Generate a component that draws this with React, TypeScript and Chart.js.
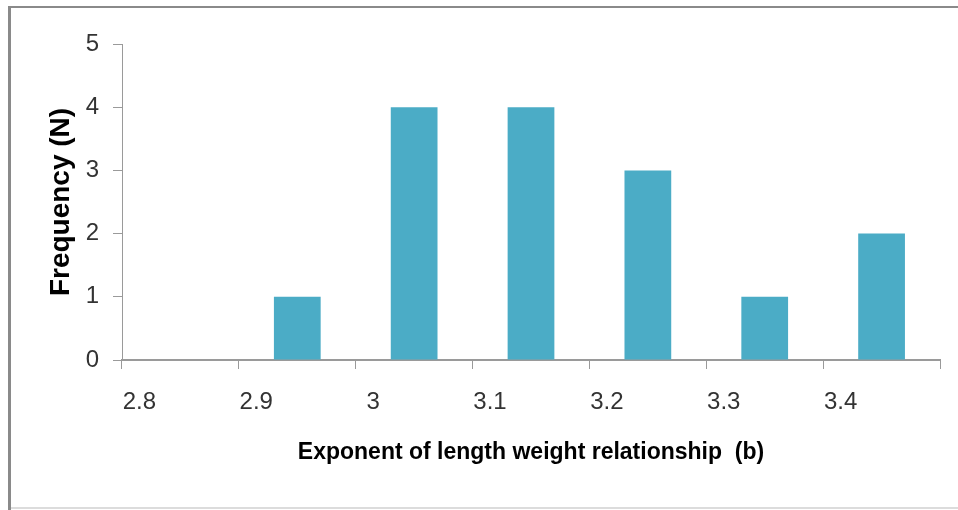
import React, { useEffect, useRef } from "react";
import { Chart, registerables } from "chart.js";

Chart.register(...registerables);

const categories = ["2.8", "2.9", "3", "3.1", "3.2", "3.3", "3.4"];
const frequencies = [0, 1, 4, 4, 3, 1, 2];
const yMin = 0;
const yMax = 5;
const xTitle = "Exponent of length weight relationship  (b)";
const yTitle = "Frequency (N)";

export default function App() {
  const ref = useRef<HTMLCanvasElement | null>(null);

  useEffect(() => {
    if (!ref.current) return;
    const chart = new Chart(ref.current, {
      type: "bar",
      data: {
        labels: categories,
        datasets: [
          {
            data: frequencies,
            backgroundColor: "#4BACC6",
            borderWidth: 0,
            categoryPercentage: 1,
            barPercentage: 0.4,
          },
        ],
      },
      options: {
        animation: false,
        responsive: false,
        layout: { padding: { left: 0, right: 18, top: 44, bottom: 0 } },
        plugins: { legend: { display: false }, tooltip: { enabled: false } },
        scales: {
          x: {
            type: "category",
            grid: {
              display: true,
              drawOnChartArea: false,
              drawTicks: true,
              tickLength: 9,
              color: "#9a9a9a",
              offset: true,
            },
            border: { display: true, color: "#9a9a9a", width: 2 },
            ticks: {
              color: "#333333",
              font: { family: "'Liberation Sans', Arial, sans-serif", size: 24 },
              padding: 19,
              labelOffset: -41,
              maxRotation: 0,
              autoSkip: false,
            },
            title: {
              display: true,
              text: xTitle,
              color: "#000000",
              font: { family: "'Liberation Sans', Arial, sans-serif", size: 23, weight: "bold" },
              padding: { top: 0, bottom: 44 },
            },
            afterFit: (s: any) => {
              s.height = 150;
            },
          },
          y: {
            min: yMin,
            max: yMax,
            grid: {
              display: true,
              drawOnChartArea: false,
              drawTicks: true,
              tickLength: 9,
              color: "#9a9a9a",
            },
            border: { display: true, color: "#9a9a9a", width: 1 },
            ticks: {
              stepSize: 1,
              color: "#333333",
              font: { family: "'Liberation Sans', Arial, sans-serif", size: 24 },
              padding: 14,
            },
            title: {
              display: true,
              text: yTitle,
              color: "#000000",
              font: { family: "'Liberation Sans', Arial, sans-serif", size: 28, weight: "bold" },
              padding: { top: 44, bottom: 0 },
            },
            afterFit: (s: any) => {
              s.width = 122;
            },
          },
        },
      },
    });
    return () => chart.destroy();
  }, []);

  return (
    <div style={{ position: "fixed", left: 0, top: 0, width: 958, height: 510, background: "#fff", overflow: "hidden" }}>
      <canvas ref={ref} width={958} height={510} style={{ position: "absolute", left: 0, top: 0, width: 958, height: 510 }} />
      <div style={{ position: "absolute", left: 8, top: 6, width: 950, height: 2, background: "#8a8a8a" }} />
      <div style={{ position: "absolute", left: 8, top: 6, width: 3, height: 504, background: "#8a8a8a" }} />
      <div style={{ position: "absolute", left: 11, top: 507, width: 947, height: 2, background: "#dcdcdc" }} />
    </div>
  );
}
